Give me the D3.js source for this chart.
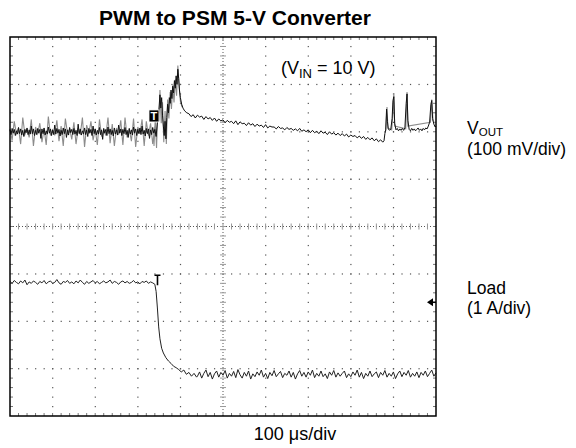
<!DOCTYPE html>
<html>
<head>
<meta charset="utf-8">
<script src="https://cdn.jsdelivr.net/npm/d3@7"></script>
<style>
  body { margin: 0; background: #fff; }
  svg { display: block; font-family: Arial, "Liberation Sans", Helvetica, sans-serif; }
</style>
</head>
<body>
<div id="scope"></div>
<script>
// Sample spacing in µs for the evenly sampled runs
const dt = 5;
const dtFine = 2.5;

// V_OUT ripple before the load step (mV, from t = 0, every dtFine)
const voutRipple = [4,-6,7,-3,5,-8,2,-5,9,-4, 6,-7,3,-10,5,-2,8,-6,4,-5,
  12,-4,6,-8,3,-6,7,-3,5,-14, 6,-4,8,-7,2,-5,10,-3,6,-8,
  4,-6,14,-5,7,-3,5,-9,3,-6, 8,-4,6,-12,4,-7,9,-2,5,-6,
  7,-5,3,-8,16,-4,6,-7,2,-5, 8,-6,4,-10,7,-3,5,-8,12,-4,
  6,-7,3,-5,9,-6,4,-16,7,-3, 5,-8,10,-4,6,-6,3,-9,8,-5,
  4,-7,14,-3,6,-8,5,-4,9,-6, 3,-12,7,-5,4,-7,10,-3,6,-8,
  5,-4,8,-6,12,-5,3,-9,7,-4, 6,-14,4,-6,9,-3,5];
// persistence (grey) ripple (mV, from t = 0, every dt)
const voutRippleGrey = [6,-18,22,-4,8,-26,30,-6,4,-12,26,-30,10,-4,18,-22,6,-28,32,-8,
  4,-6,24,-20,12,-30,28,-4,6,-16, 20,-26,8,-6,30,-32,14,-4,22,-18,
  6,-28,26,-10,4,-8,30,-24,16,-30, 8,-6,24,-28,30,-12,6,-20,28,-32, 10,-4,26,-30,22,-8,18,-26,12];

// V_OUT transient after the load step [µs, mV]
const voutStep = [[343,-10],[346,20],[349,40],[352,78],[354,50],[356,72],[358,35],[360,12],[362,-8],[364,22],
  [366,-15],[368,30],[370,58],[372,40],[374,72],[376,60],[378,88],[380,70],[382,96],[384,82],[386,108],
  [388,92],[390,118],[392,100],[394,132],[396,112],[398,86],[400,72],[403,58],[406,50],[410,44],[415,40]];
const voutStepGrey = [[338,-30],[341,28],[344,-34],[347,46],[350,22],[352,88],[355,18],[358,62],[361,-22],
  [364,44],[367,-26],[370,68],[373,28],[376,84],[379,48],[382,98],[385,62],[388,110],[391,76],[394,140],
  [397,96],[400,64],[404,52]];

// V_OUT slow decay (mV, from t = 420, every dt)
const voutDecayStart = 420;
const voutDecay = [38,32,36,29,35,31,33,26,32,27, 30,24,29,22,27,23,25,19,24,20, 22,17,23,15,21,17,18,13,19,14,
  17,11,16,12,14,9,15,8,12,10, 10,6,11,7,8,4,9,5,7,3, 6,2,7,1,4,0,4,-2,3,-2,
  1,-4,2,-3,-1,-6,0,-5,-2,-7, -3,-8,-4,-9,-5,-11,-7,-10,-8,-13, -9,-14,-10,-16,-12,-17,-13,-19,-15,-21,
  -17,-22];

// V_OUT PSM pulses [µs, mV]
const voutPsm = [[878,-19],[880,-4],[882,4],[884,48],[886,22],[888,6],[891,3],[894,6],[897,28],[899,66],
  [901,74],[903,18],[906,4],[909,7],[912,2],[915,6],[918,3],[921,7],[924,3],[927,8],[930,60],[932,80],
  [934,24],[937,5],[940,2],[943,7],[946,3],[949,6],[952,2],[955,5],[958,8],[961,3],[964,6],[967,2],
  [970,7],[973,4],[976,8],[979,6],[982,12],[985,20],[988,58],[990,66],[992,28],[995,16],[998,10],[1000,12]];
const voutPsmGrey = [[882,2],[885,52],[887,8],[896,4],[899,40],[901,82],[903,12],[929,6],[932,84],[934,12],
  [987,20],[990,68],[993,22]];

// Load current before the step (A, from t = 0, every dt)
const loadHigh = [2.06,2.02,2.08,2.04,2.01,2.07,2.03,2.09,1.99,2.05, 2.02,2.07,2.04,2.00,2.06,2.03,2.08,2.01,2.05,2.07,
  2.02,2.04,2.10,2.03,2.00,2.06,2.04,2.08,2.02,2.05, 2.01,2.07,2.03,2.09,2.04,2.00,2.06,2.02,2.05,2.08,
  2.03,2.06,2.01,2.04,2.07,2.03,2.05,2.09,2.02,2.06, 2.04,2.00,2.05,2.07,2.03,2.06,2.02,2.04,2.08,2.03,
  2.05,2.01,2.06,2.04,2.07,2.02,2.05,2.03,2.00];
// falling edge [µs, A]
const loadEdge = [[343,1.85],[346,1.5],[349,1.1],[352,0.85],[356,0.65],[360,0.55],[366,0.45],[372,0.38],
  [378,0.33],[384,0.27],[390,0.24],[396,0.2],[402,0.15],[408,0.19],[414,0.1],[420,0.14],[426,0.06],
  [432,0.12],[438,0.04]];
// light load (A, from t = 440, every dt)
const loadLowStart = 440;
const loadLow = [0.06,0.15,0.02,0.12,0.19,0.05,0.14,0.00,0.11,0.17, 0.04,0.14,0.08,0.18,0.02,0.12,0.06,0.16,0.03,0.20,
  0.09,0.02,0.14,0.06,0.17,0.00,0.11,0.05,0.15,0.08, 0.19,0.04,0.12,0.01,0.14,0.07,0.18,0.05,0.11,0.16,
  0.03,0.12,0.08,0.17,0.04,0.14,0.00,0.11,0.18,0.06, 0.14,0.04,0.15,0.08,0.19,0.03,0.12,0.06,0.17,0.05,
  0.11,0.01,0.15,0.08,0.18,0.04,0.13,0.06,0.12,0.17, 0.03,0.11,0.05,0.15,0.08,0.19,0.04,0.14,0.01,0.12,
  0.06,0.17,0.05,0.11,0.15,0.03,0.14,0.08,0.18,0.04, 0.12,0.06,0.15,0.01,0.11,0.17,0.05,0.14,0.08,0.18,
  0.04,0.12,0.06,0.15,0.03,0.14,0.08,0.17,0.05,0.12,0.19,0.06,0.13];

// Scope settings
const triggerTime = 338;      // µs
const triggerLevel = 1.62;    // A, on the load channel
const triggerMarkMv = 46;     // top of the T flag on V_OUT
const voutOffsetDiv = 2;      // 0 mV sits 2 div above centre
const voutPerDiv = 100;       // mV/div
const loadOffsetDiv = -3.22;  // 0 A position
const loadPerDiv = 1;         // A/div

const width = 576, height = 448;
const box = { left: 10, right: 436, top: 37, bottom: 416 };

const svg = d3.select("#scope").append("svg")
  .attr("width", width)
  .attr("height", height);

const x = d3.scaleLinear().domain([0, 1000]).range([box.left, box.right]);
const yDiv = d3.scaleLinear().domain([-4, 4]).range([box.bottom, box.top]);
const yVout = (mv) => yDiv(voutOffsetDiv + mv / voutPerDiv);
const yLoad = (a) => yDiv(loadOffsetDiv + a / loadPerDiv);

// graticule
const grid = svg.append("g");
const minorT = d3.range(0, 1000.1, 20);      // 1/5 division in time
const minorD = d3.range(-4, 4.01, 0.2);      // 1/5 division vertically

// dotted division lines
[100, 200, 300, 400, 600, 700, 800, 900].forEach((t) => {
  grid.selectAll(null).data(minorD.slice(1, -1)).enter().append("rect")
    .attr("x", x(t) - 0.5).attr("y", (d) => yDiv(d) - 0.5)
    .attr("width", 1.2).attr("height", 1.2).attr("fill", "#555");
});
[-3, -2, -1, 1, 2, 3].forEach((v) => {
  grid.selectAll(null).data(minorT.slice(1, -1)).enter().append("rect")
    .attr("x", (d) => x(d) - 0.5).attr("y", yDiv(v) - 0.5)
    .attr("width", 1.2).attr("height", 1.2).attr("fill", "#555");
});

// centre lines, densely dotted with minor ticks
grid.append("line")
  .attr("x1", x(500)).attr("x2", x(500)).attr("y1", box.top).attr("y2", box.bottom)
  .attr("stroke", "#555").attr("stroke-dasharray", "1,2");
grid.append("line")
  .attr("x1", box.left).attr("x2", box.right).attr("y1", yDiv(0)).attr("y2", yDiv(0))
  .attr("stroke", "#555").attr("stroke-dasharray", "1,2");
grid.selectAll(null).data(minorD.slice(1, -1)).enter().append("line")
  .attr("x1", x(500) - 3).attr("x2", x(500) + 3)
  .attr("y1", (d) => yDiv(d)).attr("y2", (d) => yDiv(d))
  .attr("stroke", "#999");
grid.selectAll(null).data(minorT.slice(1, -1)).enter().append("line")
  .attr("x1", (d) => x(d)).attr("x2", (d) => x(d))
  .attr("y1", yDiv(0) - 3).attr("y2", yDiv(0) + 3)
  .attr("stroke", "#999");

// edge ticks
grid.selectAll(null).data(minorT.slice(1, -1)).enter().append("path")
  .attr("d", (d) => `M${x(d)},${box.top}v3M${x(d)},${box.bottom}v-3`)
  .attr("stroke", "#777");
grid.selectAll(null).data(minorD.slice(1, -1)).enter().append("path")
  .attr("d", (d) => `M${box.left},${yDiv(d)}h3M${box.right},${yDiv(d)}h-3`)
  .attr("stroke", "#777");

// traces
const traces = svg.append("g");
const voutLine = d3.line().x((d) => x(d[0])).y((d) => yVout(d[1]));
const loadLine = d3.line().x((d) => x(d[0])).y((d) => yLoad(d[1]));

const voutGreyPts = voutRippleGrey.map((v, i) => [i * dt, v]).concat(voutStepGrey);
const voutPts = voutRipple.map((v, i) => [i * dtFine, v])
  .concat(voutStep)
  .concat(voutDecay.map((v, i) => [voutDecayStart + i * dt, v]))
  .concat(voutPsm);
const loadPts = loadHigh.map((v, i) => [i * dt, v])
  .concat(loadEdge)
  .concat(loadLow.map((v, i) => [loadLowStart + i * dt, v]));

traces.append("path").attr("d", voutLine(voutGreyPts))
  .attr("fill", "none").attr("stroke", "#8c8c8c").attr("stroke-width", 1.1);
traces.append("path").attr("d", voutLine(voutPsmGrey))
  .attr("fill", "none").attr("stroke", "#8c8c8c").attr("stroke-width", 1.1);
traces.append("path").attr("d", voutLine(voutPts))
  .attr("fill", "none").attr("stroke", "#111").attr("stroke-width", 1);
traces.append("path").attr("d", loadLine(loadPts))
  .attr("fill", "none").attr("stroke", "#222").attr("stroke-width", 1);

// trigger markers
const tx = x(triggerTime);
const flagTop = yVout(triggerMarkMv);
svg.append("rect")
  .attr("x", tx - 5).attr("y", flagTop).attr("width", 10).attr("height", 12)
  .attr("fill", "#000").attr("stroke", "#fff").attr("stroke-width", 0.8);
svg.append("text")
  .attr("x", tx).attr("y", flagTop + 10)
  .attr("text-anchor", "middle").attr("font-size", 11).attr("font-weight", "bold")
  .attr("fill", "#fff").text("T");
const ty = yLoad(loadHigh[loadHigh.length - 1]) - 9;
svg.append("path")
  .attr("d", `M${tx + 0.5},${ty}h6M${tx + 3.5},${ty}v10`)
  .attr("stroke", "#000").attr("stroke-width", 1.6);
const ly = yLoad(triggerLevel);
svg.append("path")
  .attr("d", `M${box.right - 9},${ly}L${box.right - 3},${ly - 4}L${box.right - 3},${ly + 4}Z`)
  .attr("fill", "#000");
svg.append("line")
  .attr("x1", box.right - 4).attr("x2", box.right).attr("y1", ly).attr("y2", ly)
  .attr("stroke", "#000").attr("stroke-width", 1.5);

// frame
svg.append("rect")
  .attr("x", box.left).attr("y", box.top)
  .attr("width", box.right - box.left).attr("height", box.bottom - box.top)
  .attr("fill", "none").attr("stroke", "#000").attr("stroke-width", 1.5);

// text
svg.append("text")
  .attr("x", 235).attr("y", 25)
  .attr("text-anchor", "middle").attr("font-size", 21).attr("font-weight", "bold")
  .text("PWM to PSM 5-V Converter");

const vin = svg.append("text").attr("x", 281).attr("y", 74).attr("font-size", 18);
vin.append("tspan").text("(V");
vin.append("tspan").attr("font-size", 13).attr("dy", 4).text("IN");
vin.append("tspan").attr("dy", -4).text(" = 10 V)");

const vout = svg.append("text").attr("x", 467).attr("y", 134).attr("font-size", 17.5);
vout.append("tspan").text("V");
vout.append("tspan").attr("font-size", 11.5).attr("dy", 2).text("OUT");
svg.append("text").attr("x", 467).attr("y", 155).attr("font-size", 17.5).text("(100 mV/div)");

svg.append("text").attr("x", 467).attr("y", 294).attr("font-size", 17.5).text("Load");
svg.append("text").attr("x", 467).attr("y", 314).attr("font-size", 17.5).text("(1 A/div)");

svg.append("text")
  .attr("x", 295).attr("y", 440)
  .attr("text-anchor", "middle").attr("font-size", 18)
  .text("100 μs/div");
</script>
</body>
</html>
